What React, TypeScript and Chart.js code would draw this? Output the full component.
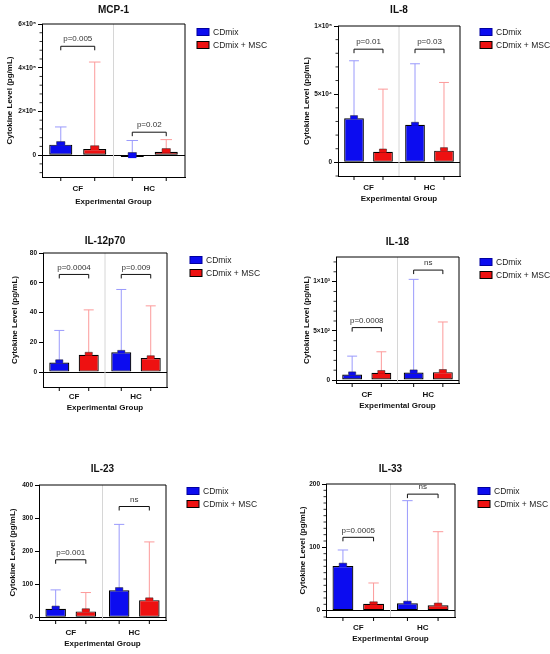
import { useEffect, useRef } from "react";
import { Chart, registerables } from "chart.js";
Chart.register(...registerables);

const FONT = "'Liberation Sans', Arial, sans-serif";
Chart.defaults.font.family = FONT;

const groups = ["CF", "HC"];
const seriesNames = ["CDmix", "CDmix + MSC"];

// MCP-1
const mcp1Cd = [48000, -9000];
const mcp1CdSem = [62000, 12000];
const mcp1CdSd = [129000, 67000];
const mcp1Msc = [28000, 15000];
const mcp1MscSem = [43000, 30000];
const mcp1MscSd = [426000, 71000];
const mcp1Ticks = [0, 200000, 400000, 600000];
const mcp1TickLabels = ["0", "2×10⁵", "4×10⁵", "6×10⁵"];
const mcp1BracketY = [498000, 105000];
const mcp1BracketText = ["p=0.005", "p=0.02"];

// IL-8
const il8Cd = [32400, 27500];
const il8CdSem = [34300, 29400];
const il8CdSd = [74500, 72300];
const il8Msc = [7800, 8600];
const il8MscSem = [9800, 10800];
const il8MscSd = [53700, 58600];
const il8Ticks = [0, 50000, 100000];
const il8TickLabels = ["0", "5×10⁴", "1×10⁵"];
const il8BracketY = [83000, 83000];
const il8BracketText = ["p=0.01", "p=0.03"];

// IL-12p70
const il12Cd = [6.5, 13.3];
const il12CdSem = [8.3, 14.6];
const il12CdSd = [28, 55.5];
const il12Msc = [11.7, 9.4];
const il12MscSem = [13.3, 11];
const il12MscSd = [41.8, 44.5];
const il12Ticks = [0, 20, 40, 60, 80];
const il12TickLabels = ["0", "20", "40", "60", "80"];
const il12BracketY = [65.6, 65.6];
const il12BracketText = ["p=0.0004", "p=0.009"];

// IL-18
const il18Cd = [57, 77];
const il18CdSem = [83, 103];
const il18CdSd = [243, 1023];
const il18Msc = [73, 80];
const il18MscSem = [97, 107];
const il18MscSd = [287, 590];
const il18Ticks = [0, 500, 1000];
const il18TickLabels = ["0", "5×10²", "1×10³"];
const il18BracketY = [533, 1117];
const il18BracketText = ["p=0.0008", "ns"];

// IL-23
const il23Cd = [26, 82];
const il23CdSem = [34, 90];
const il23CdSd = [83, 281];
const il23Msc = [18, 52];
const il23MscSem = [26, 59];
const il23MscSd = [75, 228];
const il23Ticks = [0, 100, 200, 300, 400];
const il23TickLabels = ["0", "100", "200", "300", "400"];
const il23BracketY = [174, 335];
const il23BracketText = ["p=0.001", "ns"];

// IL-33
const il33Cd = [70.5, 11.6];
const il33CdSem = [75, 15];
const il33CdSd = [95.8, 173.7];
const il33Msc = [11, 8.4];
const il33MscSem = [14, 12];
const il33MscSd = [43.7, 124.7];
const il33Ticks = [0, 100, 200];
const il33TickLabels = ["0", "100", "200"];
const il33BracketY = [115.8, 184];
const il33BracketText = ["p=0.0005", "ns"];

const BLUE = "#0c0cf0";
const RED = "#ee1111";
const BLUE_LIGHT = "#9a9afc";
const RED_LIGHT = "#fc9a9a";

type Panel = {
  name: string;
  cell: number[]; // x, y, w, h
  plot: number[]; // left, top, right, bottom inside the cell
  titleY: number;
  yTitleX: number;
  xLabelY: number;
  xTitleY: number;
  legend: number[];
  yMin: number;
  yMax: number;
  minorStep: number;
  ticks: number[];
  tickLabels: string[];
  cd: number[];
  cdSem: number[];
  cdSd: number[];
  msc: number[];
  mscSem: number[];
  mscSd: number[];
  bracketY: number[];
  bracketText: string[];
};

const panels: Panel[] = [
  {
    name: "MCP-1", cell: [0, 0, 275, 210], plot: [42, 24, 185, 177],
    titleY: 10, yTitleX: 10, xLabelY: 188, xTitleY: 202, legend: [197, 32],
    yMin: -100000, yMax: 600000, minorStep: 40000,
    ticks: mcp1Ticks, tickLabels: mcp1TickLabels,
    cd: mcp1Cd, cdSem: mcp1CdSem, cdSd: mcp1CdSd, msc: mcp1Msc, mscSem: mcp1MscSem, mscSd: mcp1MscSd,
    bracketY: mcp1BracketY, bracketText: mcp1BracketText,
  },
  {
    name: "IL-8", cell: [275, 0, 275, 210], plot: [63, 26, 185, 176],
    titleY: 10, yTitleX: 32, xLabelY: 187, xTitleY: 199, legend: [205, 32],
    yMin: -10000, yMax: 100000, minorStep: 10000,
    ticks: il8Ticks, tickLabels: il8TickLabels,
    cd: il8Cd, cdSem: il8CdSem, cdSd: il8CdSd, msc: il8Msc, mscSem: il8MscSem, mscSd: il8MscSd,
    bracketY: il8BracketY, bracketText: il8BracketText,
  },
  {
    name: "IL-12p70", cell: [0, 210, 275, 210], plot: [43, 43, 167, 177],
    titleY: 31, yTitleX: 15, xLabelY: 186, xTitleY: 198, legend: [190, 50],
    yMin: -10, yMax: 80, minorStep: 0,
    ticks: il12Ticks, tickLabels: il12TickLabels,
    cd: il12Cd, cdSem: il12CdSem, cdSd: il12CdSd, msc: il12Msc, mscSem: il12MscSem, mscSd: il12MscSd,
    bracketY: il12BracketY, bracketText: il12BracketText,
  },
  {
    name: "IL-18", cell: [275, 210, 275, 210], plot: [61, 47, 184, 173],
    titleY: 32, yTitleX: 32, xLabelY: 184, xTitleY: 196, legend: [205, 52],
    yMin: -30, yMax: 1250, minorStep: 100,
    ticks: il18Ticks, tickLabels: il18TickLabels,
    cd: il18Cd, cdSem: il18CdSem, cdSd: il18CdSd, msc: il18Msc, mscSem: il18MscSem, mscSd: il18MscSd,
    bracketY: il18BracketY, bracketText: il18BracketText,
  },
  {
    name: "IL-23", cell: [0, 420, 275, 234], plot: [39, 65, 166, 200],
    titleY: 49, yTitleX: 13, xLabelY: 212, xTitleY: 224, legend: [187, 71],
    yMin: -8, yMax: 400, minorStep: 0,
    ticks: il23Ticks, tickLabels: il23TickLabels,
    cd: il23Cd, cdSem: il23CdSem, cdSd: il23CdSd, msc: il23Msc, mscSem: il23MscSem, mscSd: il23MscSd,
    bracketY: il23BracketY, bracketText: il23BracketText,
  },
  {
    name: "IL-33", cell: [275, 420, 275, 234], plot: [51, 64, 180, 197],
    titleY: 49, yTitleX: 28, xLabelY: 207, xTitleY: 219, legend: [203, 71],
    yMin: -10, yMax: 200, minorStep: 10,
    ticks: il33Ticks, tickLabels: il33TickLabels,
    cd: il33Cd, cdSem: il33CdSem, cdSd: il33CdSd, msc: il33Msc, mscSem: il33MscSem, mscSd: il33MscSd,
    bracketY: il33BracketY, bracketText: il33BracketText,
  },
];

function PanelChart({ p }: { p: Panel }) {
  const canvasRef = useRef<HTMLCanvasElement>(null);

  useEffect(() => {
    if (!canvasRef.current) return;
    const ctx = canvasRef.current.getContext("2d");
    if (!ctx) return;

    const [, , cw, ch] = p.cell;
    const [pl, pt, pr, pb] = p.plot;
    const sems = [p.cdSem, p.mscSem];
    const sds = [p.cdSd, p.mscSd];
    const dark = [BLUE, RED];
    const light = [BLUE_LIGHT, RED_LIGHT];

    const decor = {
      id: "decor",
      beforeDatasetsDraw(chart: any) {
        const c = chart.ctx;
        const { top, bottom } = chart.chartArea;
        const xs = chart.scales.x;
        const mid = (xs.getPixelForTick(0) + xs.getPixelForTick(1)) / 2;
        c.save();
        c.strokeStyle = "#d6d6d6";
        c.lineWidth = 1;
        c.beginPath();
        c.moveTo(mid, top);
        c.lineTo(mid, bottom);
        c.stroke();
        c.restore();
      },
      afterDatasetsDraw(chart: any) {
        const c = chart.ctx;
        const { left, right, top, bottom } = chart.chartArea;
        const ys = chart.scales.y;
        c.save();

        // error bars (light) and mean caps (dark)
        for (let i = 0; i < 2; i++) {
          const meta = chart.getDatasetMeta(i);
          meta.data.forEach((bar: any, j: number) => {
            const ySd = ys.getPixelForValue(sds[i][j]);
            const ySem = ys.getPixelForValue(sems[i][j]);
            const capW = bar.width * 0.5;
            c.strokeStyle = light[i];
            c.lineWidth = 1;
            c.beginPath();
            c.moveTo(bar.x, bar.y);
            c.lineTo(bar.x, ySd);
            c.moveTo(bar.x - capW / 2, ySd);
            c.lineTo(bar.x + capW / 2, ySd);
            c.stroke();
            const tw = bar.width * 0.36;
            c.fillStyle = dark[i];
            c.fillRect(bar.x - tw / 2, ySem, tw, bar.y - ySem + 1);
            c.strokeStyle = "#222";
            c.lineWidth = 0.5;
            c.beginPath();
            c.moveTo(bar.x - tw / 2, bar.y);
            c.lineTo(bar.x - tw / 2, ySem);
            c.lineTo(bar.x + tw / 2, ySem);
            c.lineTo(bar.x + tw / 2, bar.y);
            c.stroke();
          });
        }

        // frame top and right
        c.strokeStyle = "#000";
        c.lineWidth = 1;
        c.beginPath();
        c.moveTo(left, top);
        c.lineTo(right, top);
        c.lineTo(right, bottom);
        c.stroke();

        // x tick marks under each bar
        c.beginPath();
        for (let i = 0; i < 2; i++) {
          chart.getDatasetMeta(i).data.forEach((bar: any) => {
            c.moveTo(bar.x, bottom);
            c.lineTo(bar.x, bottom + 4);
          });
        }
        c.stroke();

        // minor y ticks
        if (p.minorStep > 0) {
          c.lineWidth = 0.8;
          c.beginPath();
          const start = Math.ceil(p.yMin / p.minorStep) * p.minorStep;
          for (let v = start; v <= p.yMax + 1e-9; v += p.minorStep) {
            if (p.ticks.includes(v)) continue;
            const y = ys.getPixelForValue(v);
            c.moveTo(left, y);
            c.lineTo(left - 2.5, y);
          }
          c.stroke();
        }

        // significance brackets
        const m0 = chart.getDatasetMeta(0).data;
        const m1 = chart.getDatasetMeta(1).data;
        c.lineWidth = 1;
        c.strokeStyle = "#111";
        c.fillStyle = "#333";
        c.font = `8px ${FONT}`;
        c.textAlign = "center";
        c.textBaseline = "middle";
        p.bracketY.forEach((v, j) => {
          const x1 = m0[j].x;
          const x2 = m1[j].x;
          const y = ys.getPixelForValue(v);
          c.beginPath();
          c.moveTo(x1, y + 4);
          c.lineTo(x1, y);
          c.lineTo(x2, y);
          c.lineTo(x2, y + 4);
          c.stroke();
          c.fillText(p.bracketText[j], (x1 + x2) / 2, y - 7);
        });

        // panel title
        c.fillStyle = "#111";
        c.font = `bold 10px ${FONT}`;
        c.fillText(p.name, (left + right) / 2, p.titleY);

        // legend
        c.textAlign = "left";
        c.font = `8.5px ${FONT}`;
        seriesNames.forEach((s, i) => {
          const lx = p.legend[0];
          const ly = p.legend[1] + i * 13;
          c.fillStyle = dark[i];
          c.fillRect(lx, ly - 3.5, 12, 7);
          c.strokeStyle = i === 0 ? "#0000a0" : "#000";
          c.lineWidth = 1;
          c.strokeRect(lx, ly - 3.5, 12, 7);
          c.fillStyle = "#222";
          c.fillText(s, lx + 16, ly + 0.5);
        });
        c.restore();
      },
    };

    const chart = new Chart(ctx, {
      type: "bar",
      data: {
        labels: groups,
        datasets: [
          { label: seriesNames[0], data: p.cd, backgroundColor: BLUE, borderColor: "#000", borderWidth: 1.2, borderSkipped: false },
          { label: seriesNames[1], data: p.msc, backgroundColor: RED, borderColor: "#000", borderWidth: 1.2, borderSkipped: false },
        ],
      },
      options: {
        responsive: true,
        maintainAspectRatio: false,
        animation: false,
        layout: { padding: { left: 0, top: pt, right: cw - pr, bottom: 0 } },
        datasets: { bar: { categoryPercentage: 0.95, barPercentage: 0.68 } },
        plugins: { legend: { display: false }, title: { display: false }, tooltip: { enabled: false } },
        scales: {
          x: {
            grid: { display: false, tickLength: 0 },
            border: { display: true, color: "#000", width: 1 },
            ticks: { color: "#111", font: { size: 8, weight: "bold" }, padding: p.xLabelY - pb - 4.5 },
            title: {
              display: true,
              text: "Experimental Group",
              color: "#111",
              font: { size: 8, weight: "bold" },
              padding: { top: 0, bottom: ch - p.xTitleY - 4.8 },
            },
            afterFit: (s: any) => { s.height = ch - pb; },
          },
          y: {
            min: p.yMin,
            max: p.yMax,
            afterBuildTicks: (s: any) => { s.ticks = p.ticks.map((v) => ({ value: v })); },
            ticks: {
              color: "#111",
              padding: 2,
              font: { size: 6.5, weight: "bold" },
              callback: (v: any) => p.tickLabels[p.ticks.indexOf(Number(v))] ?? "",
            },
            grid: {
              color: (c: any) => (c.tick && c.tick.value === 0 ? "#000" : "rgba(0,0,0,0)"),
              tickColor: "#000",
              tickLength: 4,
              lineWidth: 1,
            },
            border: { display: true, color: "#000", width: 1 },
            title: {
              display: true,
              text: "Cytokine Level (pg/mL)",
              color: "#111",
              font: { size: 8, weight: "bold" },
              padding: { top: p.yTitleX - 4.8, bottom: 0 },
            },
            afterFit: (s: any) => { s.width = pl; },
          },
        },
      },
      plugins: [decor],
    });

    return () => chart.destroy();
  }, [p]);

  const [x, y, w, h] = p.cell;
  return (
    <div style={{ position: "absolute", left: x, top: y, width: w, height: h }}>
      <canvas ref={canvasRef} style={{ display: "block" }} />
    </div>
  );
}

export default function App() {
  return (
    <div style={{ position: "absolute", left: 0, top: 0, width: 550, height: 654, background: "#fff" }}>
      {panels.map((p) => (
        <PanelChart key={p.name} p={p} />
      ))}
    </div>
  );
}
